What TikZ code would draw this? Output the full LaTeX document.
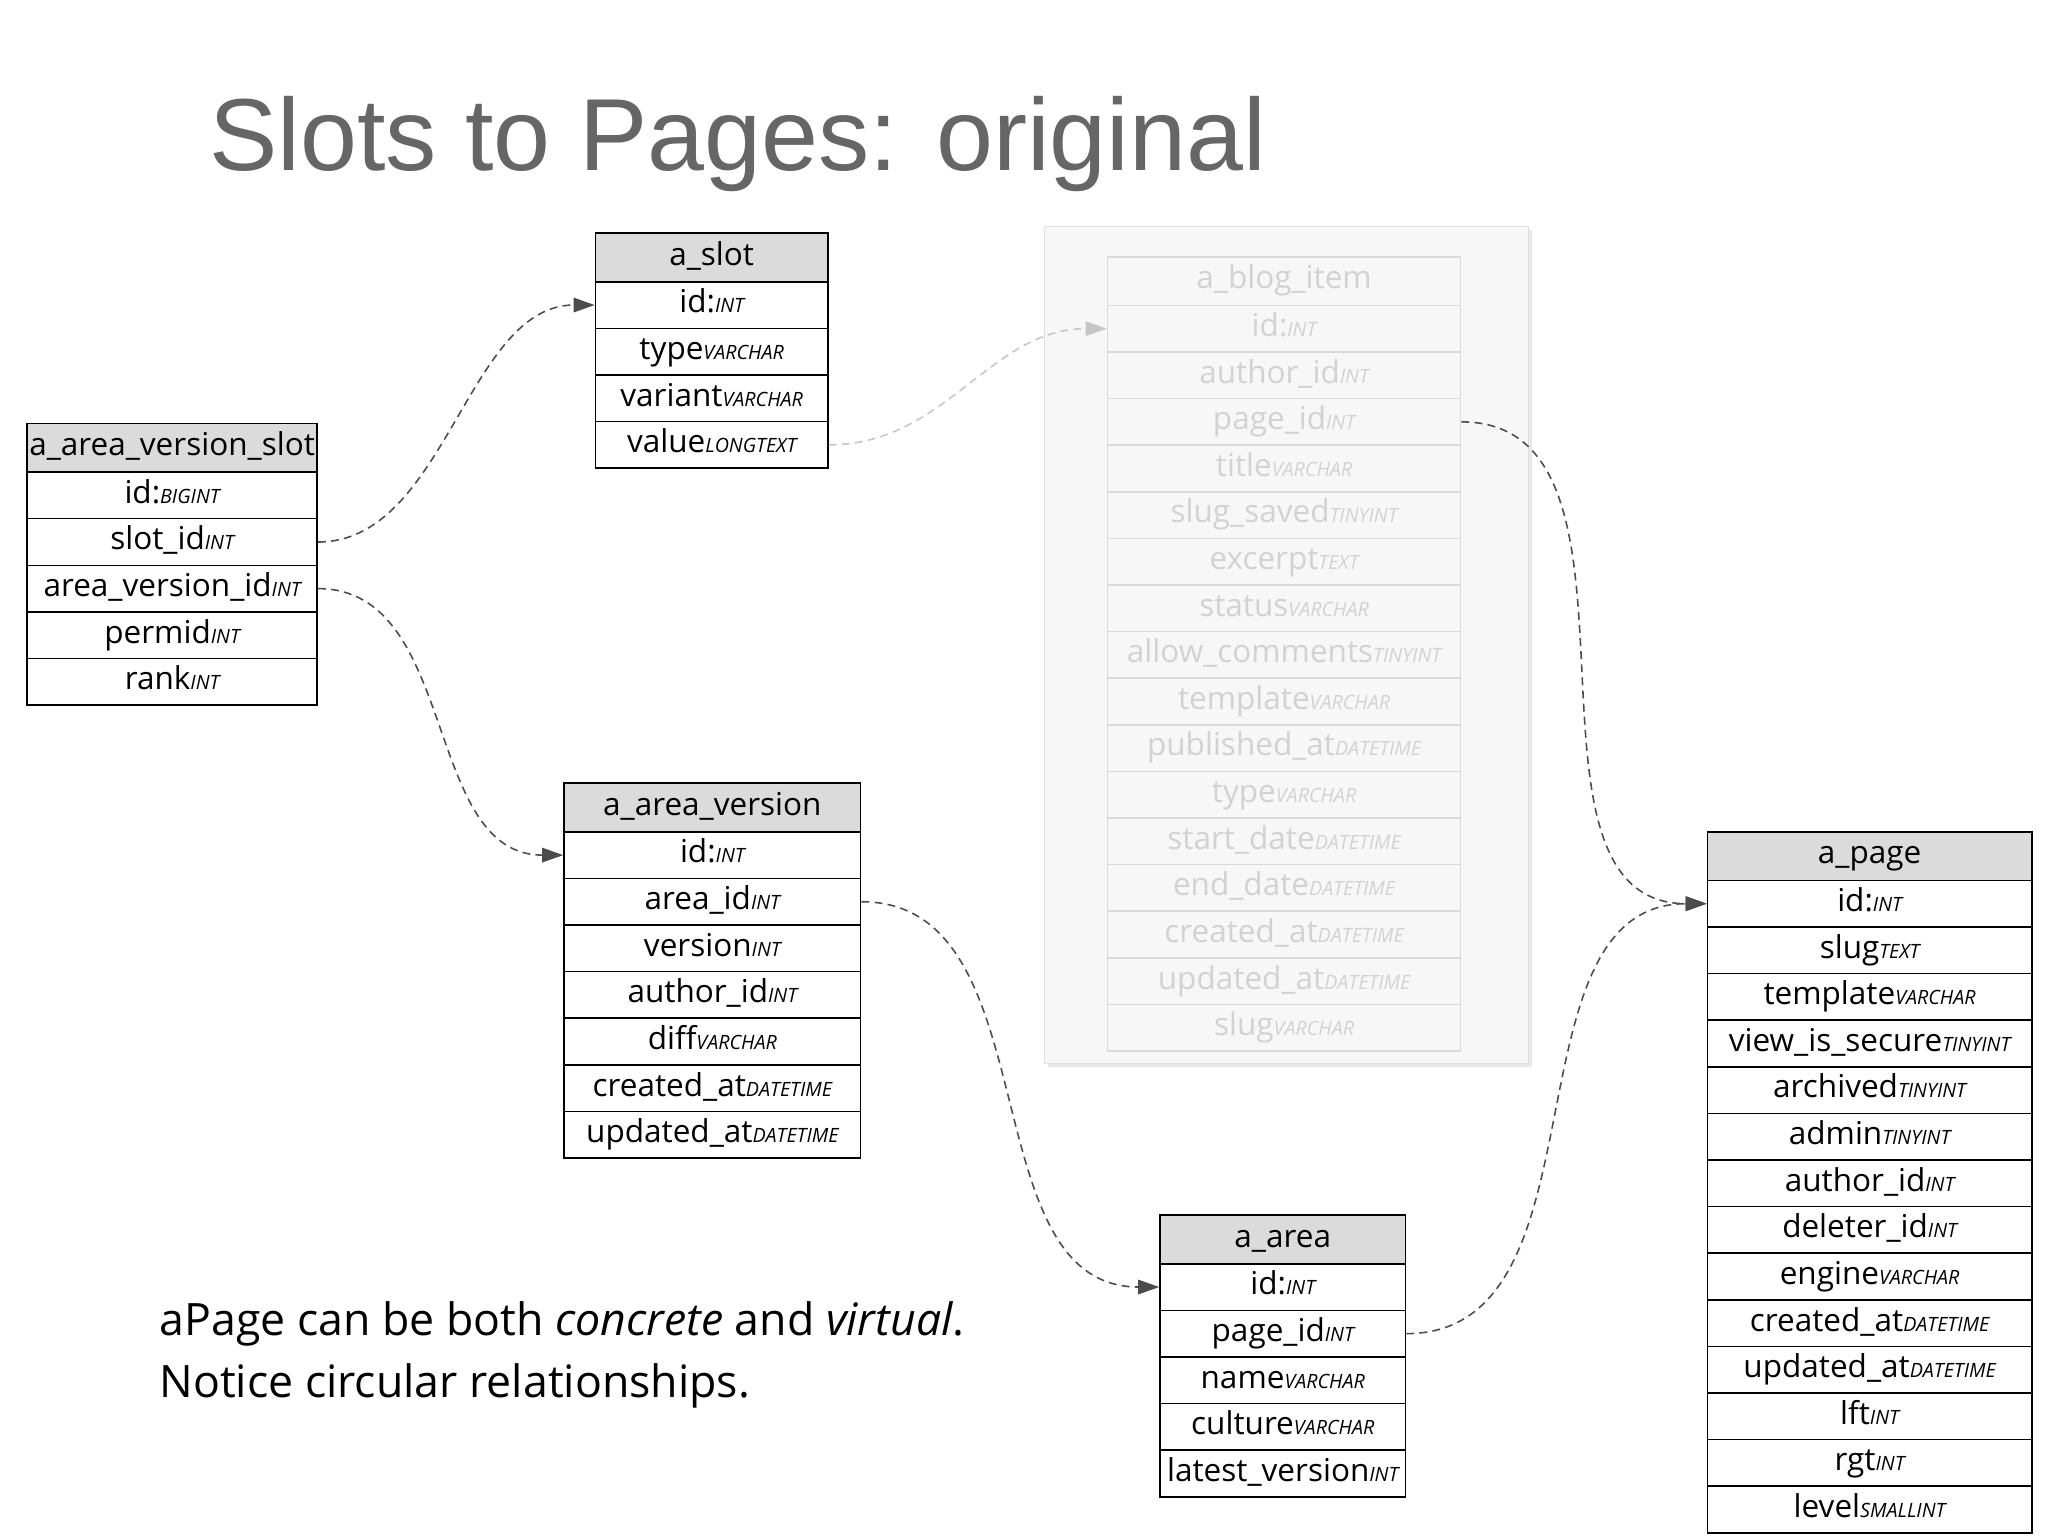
\documentclass[tikz,border=0pt]{standalone}
\usepackage{fontspec}
\setmainfont{Open Sans}
\newfontfamily\titlefont{Liberation Sans}
\usetikzlibrary{arrows.meta,calc}
\newcommand\typ[1]{{\fontsize{15}{16}\selectfont\itshape #1}}
\tikzset{
 hdr/.style={draw=black,line width=1.2pt,fill=gray!28,minimum height=37pt,inner sep=0pt,text height=17pt,text depth=5pt,font=\fontsize{24}{26}\selectfont,anchor=north west},
 rowbox/.style={draw=black,line width=1.2pt,fill=white,minimum height=35.5pt,inner sep=0pt,text height=17pt,text depth=5pt,font=\fontsize{24}{26}\selectfont,anchor=north west},
 link/.style={draw=black!70,dash pattern=on 6pt off 4pt,line width=1.2pt,-{Triangle[length=16pt,width=11pt]}},
 faded/.style={draw=gray!30,text=gray!35}
}
\newcommand\tbl[7]{% name x y w header style list
 \node[hdr,minimum width=#4pt,#6] (#1-0) at (#2,#3) {#5};
 \foreach \f/\t [count=\i] in {#7} {
  \node[rowbox,minimum width=#4pt,#6] (#1-\i) at (#2,{#3+37+(\i-1)*35.5}) {\f\typ{\t}};
 }
}
\begin{document}
\begin{tikzpicture}[x=1pt,y=-1pt]
\useasboundingbox (0,0) rectangle (1560,1170);
\node[anchor=west,text=gray!80!black,font=\titlefont\fontsize{78}{84}\selectfont] (title) at (156,110) {Slots to Pages: original};
% blog panel
\fill[gray!18] (798,175) rectangle (1167,813);
\node[draw=gray!25,fill=gray!6,minimum width=369pt,minimum height=638pt,anchor=north west,inner sep=0pt] (panel) at (795,172) {};
\tbl{slot}{453}{177}{177}{a\_slot}{}{id:/INT,type/VARCHAR,variant/VARCHAR,value/LONGTEXT}
\tbl{avs}{20}{322}{221}{a\_area\_version\_slot}{}{id:/BIGINT,slot\_id/INT,area\_version\_id/INT,permid/INT,rank/INT}
\tbl{av}{429}{596}{226}{a\_area\_version}{}{id:/INT,area\_id/INT,version/INT,author\_id/INT,diff/VARCHAR,created\_at/DATETIME,updated\_at/DATETIME}
\tbl{blog}{843}{195}{269}{a\_blog\_item}{faded,fill=gray!6}{id:/INT,author\_id/INT,page\_id/INT,title/VARCHAR,slug\_saved/TINYINT,excerpt/TEXT,status/VARCHAR,allow\_comments/TINYINT,template/VARCHAR,published\_at/DATETIME,type/VARCHAR,start\_date/DATETIME,end\_date/DATETIME,created\_at/DATETIME,updated\_at/DATETIME,slug/VARCHAR}
\tbl{area}{883}{925}{187}{a\_area}{}{id:/INT,page\_id/INT,name/VARCHAR,culture/VARCHAR,latest\_version/INT}
\tbl{page}{1300}{633}{247}{a\_page}{}{id:/INT,slug/TEXT,template/VARCHAR,view\_is\_secure/TINYINT,archived/TINYINT,admin/TINYINT,author\_id/INT,deleter\_id/INT,engine/VARCHAR,created\_at/DATETIME,updated\_at/DATETIME,lft/INT,rgt/INT,level/SMALLINT}
% links
\draw[link] (avs-2.east) to[out=0,in=180,looseness=0.9] (slot-1.west);
\draw[link] (avs-3.east) to[out=0,in=180] (av-1.west);
\draw[link,draw=gray!45] (slot-4.east) to[out=0,in=180] (blog-1.west);
\draw[link] (blog-3.east) to[out=0,in=180] (page-1.west);
\draw[link] (av-2.east) to[out=0,in=180] (area-1.west);
\draw[link] (area-2.east) to[out=0,in=180] (page-1.west);
\node[anchor=north west,align=left,font=\fontsize{34}{47}\selectfont] (note) at (118,988) {aPage can be both \textit{concrete} and \textit{virtual}.\\Notice circular relationships.};
\end{tikzpicture}
\end{document}
